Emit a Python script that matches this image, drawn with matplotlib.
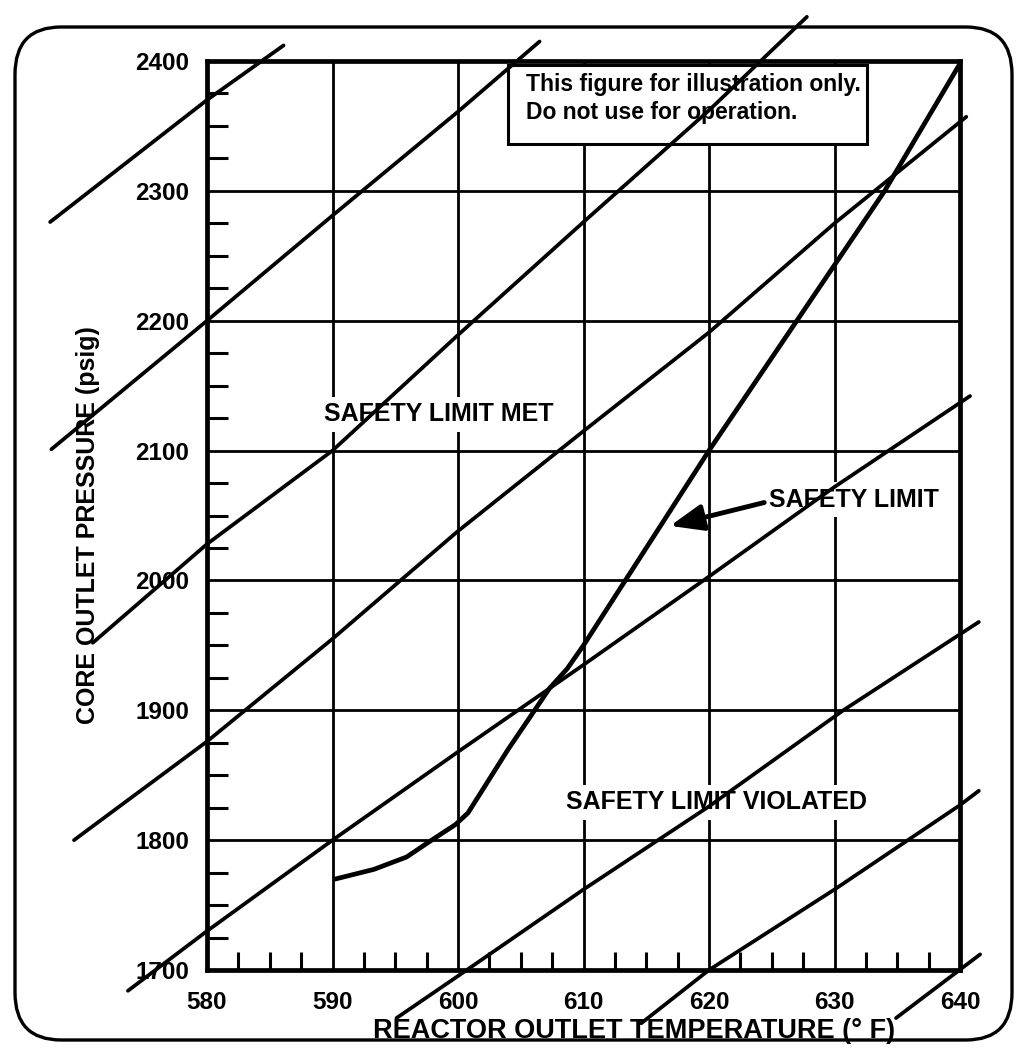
import matplotlib.pyplot as plt
from matplotlib.patches import Rectangle, FancyBboxPatch
from matplotlib.ticker import MultipleLocator

plt.rcParams['font.family'] = ['Liberation Sans', 'DejaVu Sans']
plt.rcParams['font.weight'] = 'bold'

# axis ticks
x_ticks = [580, 590, 600, 610, 620, 630, 640]
y_ticks = [1700, 1800, 1900, 2000, 2100, 2200, 2300, 2400]

# diagonal reference lines (temperature F, pressure psig)
line_a_t = [567.5, 580, 586.1]
line_a_p = [2276, 2370, 2412]
line_b_t = [567.6, 580, 590, 600, 606.5]
line_b_p = [2101, 2200, 2281, 2361, 2415]
line_c_t = [570.9, 580, 590, 600, 610, 620, 627.8]
line_c_p = [1952, 2028, 2100, 2189, 2276, 2362, 2434]
line_d_t = [569.4, 580, 590, 600, 610, 620, 630, 640.5]
line_d_p = [1800, 1876, 1955, 2038, 2115, 2191, 2275, 2357]
line_e_t = [573.7, 580, 590, 600, 610, 620, 630, 640.8]
line_e_p = [1684, 1730, 1800, 1868, 1935, 2003, 2072, 2142]
line_f_t = [595.1, 600.7, 610, 620, 630.7, 641.5]
line_f_p = [1663, 1700, 1762, 1826, 1900, 1968]
line_g_t = [614.6, 620, 630, 640, 641.5]
line_g_p = [1659, 1700, 1762, 1827, 1838]
line_h_t = [634.9, 641.6]
line_h_p = [1663, 1712]

# safety limit curve
limit_t = [590.2, 593.3, 595.9, 597.9, 599.8, 600.8, 604, 607.3, 608.7, 610, 620, 627, 634, 640]
limit_p = [1770, 1777.5, 1787, 1800, 1812, 1821, 1870, 1917, 1932, 1950, 2100, 2200, 2300, 2398]

fig = plt.figure(figsize=(10.25, 10.53), dpi=100)
fig.patch.set_facecolor('white')

# hand drawn frame around the whole figure
border = FancyBboxPatch((15 / 1025, 1 - 1040 / 1053), 997 / 1025, 1013 / 1053,
                        boxstyle='round,pad=0,rounding_size=0.045',
                        transform=fig.transFigure, fill=False, ec='k', lw=2.4)
fig.patches.append(border)

ax = fig.add_axes([207 / 1025, 1 - 970 / 1053, 753 / 1025, 909 / 1053])
ax.set_xlim(580, 640)
ax.set_ylim(1700, 2400)
ax.set_xticks(x_ticks)
ax.set_yticks(y_ticks)
ax.xaxis.set_minor_locator(MultipleLocator(2.5))
ax.yaxis.set_minor_locator(MultipleLocator(25))
ax.tick_params(which='major', length=0, labelsize=17.5)
ax.tick_params(axis='x', which='major', pad=15)
ax.tick_params(axis='y', which='major', pad=13)
ax.tick_params(which='minor', direction='in', length=13, width=2.2)
ax.tick_params(axis='y', which='minor', length=15)
for s in ax.spines.values():
    s.set_linewidth(3.4)
ax.set_axisbelow(True)
ax.grid(True, which='major', color='k', lw=2.0)

lines = [(line_a_t, line_a_p), (line_b_t, line_b_p), (line_c_t, line_c_p),
         (line_d_t, line_d_p), (line_e_t, line_e_p), (line_f_t, line_f_p),
         (line_g_t, line_g_p), (line_h_t, line_h_p)]
for t, p in lines:
    ax.plot(t, p, color='k', lw=2.7, clip_on=False, zorder=3, solid_capstyle='round')

ax.plot(limit_t, limit_p, color='k', lw=3.4, clip_on=False, zorder=3.2,
        solid_capstyle='round', solid_joinstyle='round')

# notice box
ax.add_patch(Rectangle((604.0, 2336), 28.6, 61, facecolor='white', edgecolor='k',
                       lw=2.2, zorder=2))
ax.text(605.4, 2391, 'This figure for illustration only.\nDo not use for operation.',
        fontsize=16.5, ha='left', va='top', linespacing=1.3, zorder=2.1)

box = dict(facecolor='white', edgecolor='none', pad=4)
ax.text(598.5, 2128, 'SAFETY LIMIT MET', fontsize=18, ha='center', va='center',
        bbox=box, zorder=2)
ax.text(624.8, 2062, 'SAFETY LIMIT', fontsize=18, ha='left', va='center',
        bbox=box, zorder=2)
ax.text(620.6, 1829, 'SAFETY LIMIT VIOLATED', fontsize=18, ha='center', va='center',
        bbox=box, zorder=2)
ax.annotate('', xy=(616.9, 2042), xytext=(624.4, 2060),
            arrowprops=dict(arrowstyle='-|>,head_length=20,head_width=8',
                            mutation_scale=1, lw=3.5, color='k',
                            shrinkA=0, shrinkB=0), zorder=3)

fig.text(88 / 1025, 1 - 525 / 1053, 'CORE OUTLET PRESSURE (psig)', rotation=90,
         ha='center', va='center', fontsize=18)
fig.text(634 / 1025, 1 - 1031 / 1053, 'REACTOR OUTLET TEMPERATURE (° F)',
         ha='center', va='center', fontsize=19.5)

fig.savefig('out.png', dpi=100)
